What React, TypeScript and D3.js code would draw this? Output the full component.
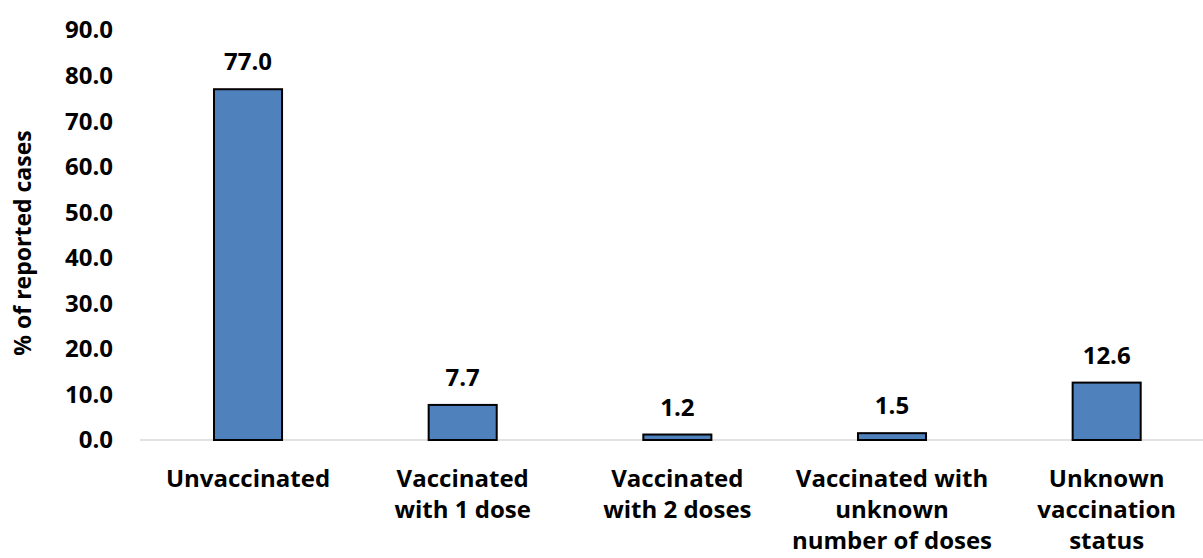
import React from "react";
import * as d3 from "d3";

const categories: string[][] = [
  ["Unvaccinated"],
  ["Vaccinated", "with 1 dose"],
  ["Vaccinated", "with 2 doses"],
  ["Vaccinated with", "unknown", "number of doses"],
  ["Unknown", "vaccination", "status"],
];
const values: number[] = [77.0, 7.7, 1.2, 1.5, 12.6];
const yTicks: number[] = [0, 10, 20, 30, 40, 50, 60, 70, 80, 90];
const yLabel = "% of reported cases";

const W = 1203;
const H = 558;
const FONT = "'Open Sans', sans-serif";
const FS = 24;

export default function App() {
  const keys = categories.map((c) => c.join(" "));
  const x = d3.scaleBand<string>().domain(keys).range([140.7, 1214]).paddingInner(0.683).paddingOuter(0.683 / 2);
  const y = d3.scaleLinear().domain([0, 90]).range([440, 30]);
  const baseY = y(0);

  return (
    <svg width={W} height={H} style={{ position: "fixed", left: 0, top: 0, background: "#fff" }} fontFamily={FONT}>
      {yTicks.map((t) => (
        <text key={t} x={113} y={y(t)} dy="0.35em" textAnchor="end" fontSize={FS} fontWeight={700} fill="#000">
          {t.toFixed(1)}
        </text>
      ))}
      <text
        transform={`translate(23, 243) rotate(-90)`}
        textAnchor="middle"
        dy="0.35em"
        fontSize={FS - 1}
        fontWeight={700}
        fill="#000"
      >
        {yLabel}
      </text>
      <line x1={140} x2={W} y1={baseY} y2={baseY} stroke="#d9d9d9" strokeWidth={1.5} />
      {values.map((v, i) => {
        const k = keys[i];
        const bx = x(k)!;
        const bw = x.bandwidth();
        return (
          <g key={k}>
            <rect x={bx} y={y(v)} width={bw} height={baseY - y(v)} fill="#4F81BD" stroke="#000" strokeWidth={2} />
            <text x={bx + bw / 2} y={y(v) - 19} textAnchor="middle" fontSize={FS} fontWeight={700} fill="#000">
              {v.toFixed(1)}
            </text>
            {categories[i].map((line, j) => (
              <text key={j} x={bx + bw / 2} y={487 + j * 31} textAnchor="middle" fontSize={FS} fontWeight={700} fill="#000">
                {line}
              </text>
            ))}
          </g>
        );
      })}
    </svg>
  );
}
